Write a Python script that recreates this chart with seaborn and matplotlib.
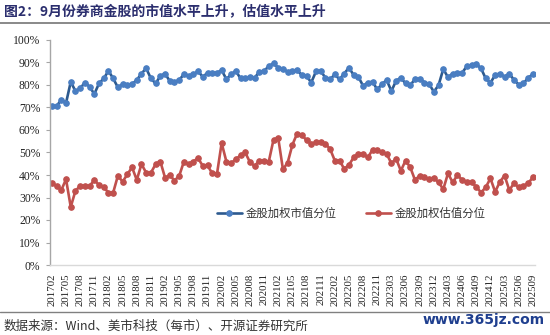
import numpy as np
import pandas as pd
import matplotlib
matplotlib.use('Agg')
import matplotlib.pyplot as plt
from matplotlib.lines import Line2D
import seaborn as sns

# ---------------- data ----------------
# monthly observations (202301 is absent in the source series)
months = [m for m in pd.period_range('2017-02', '2025-09', freq='M').strftime('%Y%m')
          if m != '202301']

series_names = ['金股加权市值分位', '金股加权估值分位']

mv_pct = [70.6, 70.6, 73.5, 72.0, 81.4, 77.3, 78.5, 81.1, 79.2, 76.0,
          80.7, 82.9, 86.3, 82.9, 78.9, 80.4, 80.0, 80.4, 82.2, 85.1,
          87.4, 82.9, 80.7, 84.0, 85.1, 81.7, 81.4, 82.2, 84.8, 84.2,
          84.7, 86.2, 83.6, 85.4, 85.4, 85.4, 86.6, 82.6, 84.7, 86.3,
          82.9, 82.9, 83.6, 83.2, 85.9, 86.2, 88.4,
          89.6, 87.7, 87.1, 85.9, 86.3, 86.6, 84.4, 84.0, 81.1, 86.0,
          86.3, 83.2, 82.5, 84.7, 82.5, 85.1, 87.7, 84.4, 83.6, 79.6,
          81.1, 81.4, 78.0, 80.4, 82.2, 77.3, 81.9, 83.2, 80.7, 79.9,
          82.6, 82.8, 81.1, 80.4, 77.0, 79.9, 87.1, 83.4, 85.1,
          85.4, 85.4, 88.4, 88.9, 89.3, 87.4, 82.9, 81.0, 84.4, 85.1,
          83.6, 85.1, 82.2, 80.2, 80.7, 83.2, 84.8]

pe_pct = [36.3, 35.1, 33.3, 38.1, 25.8, 33.0, 35.1, 35.1, 35.1, 37.8,
          35.5, 34.5, 32.2, 32.2, 39.7, 37.0, 40.3, 43.4, 37.8, 44.8,
          41.0, 41.0, 44.8, 46.0, 38.8, 40.0, 37.5, 39.6, 46.0, 44.9,
          46.0, 47.5, 44.0, 44.3, 40.7, 40.3, 54.2, 46.0, 45.2, 47.0,
          48.7, 50.0, 45.7, 44.0, 46.4, 46.4, 46.0,
          55.7, 56.4, 42.5, 45.5, 53.4, 58.4, 57.9, 55.4, 53.9, 54.6,
          54.6, 53.9, 51.5, 46.4, 46.4, 42.7, 44.5, 47.8, 49.4, 49.4,
          47.8, 51.2, 51.2, 50.0, 49.3, 45.2, 47.2, 41.9, 46.4, 43.4,
          37.8, 39.7, 39.0, 38.2, 38.8, 36.7, 33.7, 40.7, 36.7,
          40.0, 37.8, 37.0, 36.7, 34.8, 32.2, 34.5, 38.5, 32.5, 37.0,
          39.7, 33.3, 36.3, 34.5, 35.2, 36.3, 39.0]

y_ticks = list(range(0, 101, 10))
y_labels = [f'{v}%' for v in y_ticks]

title_text = '图2：9月份券商金股的市值水平上升，估值水平上升'
source_text = '数据来源：Wind、美市科技（每市）、开源证券研究所'
watermark_text = 'www.365jz.com'

# ---------------- plot ----------------
sns.set_theme(style='white')
plt.rcParams['font.family'] = ['Noto Sans CJK SC', 'DejaVu Sans']
plt.rcParams['axes.unicode_minus'] = False

W, H = 550, 335
fig = plt.figure(figsize=(W / 100, H / 100), dpi=100)
ax = fig.add_axes([50 / W, 70 / H, 485 / W, 225 / H])

df = pd.DataFrame({'idx': np.arange(len(months)), 'month': months,
                   'mv': mv_pct, 'pe': pe_pct})

sns.lineplot(data=df, x='idx', y='mv', ax=ax, color='#2D5A8F', lw=1.9,
             marker='o', markersize=4.0, markerfacecolor='#4A7EC2',
             markeredgecolor='#4A7EC2', label=series_names[0])
sns.lineplot(data=df, x='idx', y='pe', ax=ax, color='#C0504D', lw=1.9,
             marker='o', markersize=4.0, markerfacecolor='#C0504D',
             markeredgecolor='#C0504D', label=series_names[1])

ax.set_xlim(-0.4, len(months) - 1 + 0.45)
ax.set_ylim(0, 100)
ax.set_yticks(y_ticks)
ax.set_yticklabels(y_labels, family='Liberation Serif', fontsize=8.4, color='#222222')
tick_idx = list(range(0, len(months), 3))
ax.set_xticks(tick_idx)
ax.set_xticklabels([months[i] for i in tick_idx], rotation=90,
                   family='Liberation Serif', fontsize=7.8, color='#222222')
ax.set_xlabel('')
ax.set_ylabel('')
ax.grid(False)

for s in ['top', 'right']:
    ax.spines[s].set_visible(False)
ax.spines['left'].set_color('#A6A6A6')
ax.spines['left'].set_linewidth(1.0)
ax.spines['bottom'].set_color('#D9D9D9')
ax.spines['bottom'].set_linewidth(1.0)
ax.tick_params(axis='y', which='major', direction='out', length=3,
               width=0.8, color='#A6A6A6', pad=4, left=True)
ax.tick_params(axis='x', which='major', length=0, pad=6, bottom=True)

leg = ax.legend(loc='center', bbox_to_anchor=(351 / W, 1 - 213 / H),
                bbox_transform=fig.transFigure, ncol=2, frameon=False,
                fontsize=8.2, handlelength=2.2, columnspacing=2.6,
                handletextpad=0.3)
for t in leg.get_texts():
    t.set_color('#333333')

# title, separators, source, watermark
fig.text(4 / W, 1 - 11 / H, title_text, fontsize=10, fontweight='bold',
         color='#2B2E6E', va='center', ha='left')
fig.add_artist(Line2D([0, 1], [1 - 23 / H] * 2, color='#808080', lw=1.3))
fig.add_artist(Line2D([0, 1], [1 - 312 / H] * 2, color='#808080', lw=1.0))
fig.text(4 / W, 1 - 326 / H, source_text, fontsize=9.0, color='#333333',
         va='center', ha='left')
fig.text(545 / W, 1 - 320 / H, watermark_text, fontsize=10, fontweight='bold',
         color='#1F3F8F', va='center', ha='right', family='DejaVu Sans')

fig.savefig('out.png', dpi=100, facecolor='white')
